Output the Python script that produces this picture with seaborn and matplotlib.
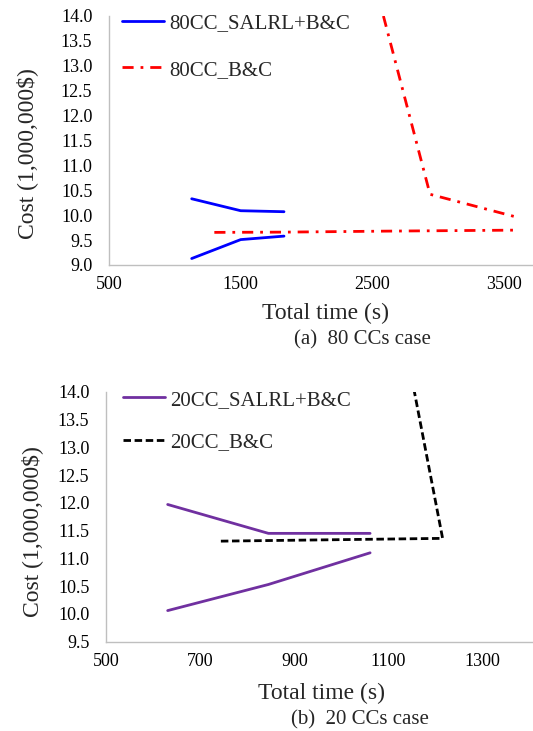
import matplotlib
matplotlib.use("Agg")
import matplotlib.pyplot as plt
import seaborn as sns
import pandas as pd

# (a) 80 CCs case
time_80_salrl_upper = [1128, 1500, 1829]
cost_80_salrl_upper = [10.33, 10.09, 10.07]
time_80_salrl_lower = [1128, 1500, 1829]
cost_80_salrl_lower = [9.13, 9.51, 9.58]
time_80_bc_upper = [2584, 2938, 3584]
cost_80_bc_upper = [14.0, 10.42, 9.97]
time_80_bc_lower = [1300, 1829, 2600, 3584]
cost_80_bc_lower = [9.655, 9.66, 9.68, 9.70]

# (b) 20 CCs case
time_20_salrl_upper = [631, 845, 1061]
cost_20_salrl_upper = [11.97, 11.45, 11.45]
time_20_salrl_lower = [631, 845, 1061]
cost_20_salrl_lower = [10.06, 10.53, 11.10]
time_20_bc = [744, 1215, 1155]
cost_20_bc = [11.31, 11.36, 14.0]

labels_top = ['80CC_SALRL+B&C', '80CC_B&C']
labels_bottom = ['20CC_SALRL+B&C', '20CC_B&C']


def branches(pairs):
    rows = []
    for k, (xs, ys) in enumerate(pairs):
        for x, y in zip(xs, ys):
            rows.append({'time': x, 'cost': y, 'branch': k})
    return pd.DataFrame(rows)


df_80_salrl = branches([(time_80_salrl_upper, cost_80_salrl_upper),
                        (time_80_salrl_lower, cost_80_salrl_lower)])
df_80_bc = branches([(time_80_bc_upper, cost_80_bc_upper),
                     (time_80_bc_lower, cost_80_bc_lower)])
df_20_salrl = branches([(time_20_salrl_upper, cost_20_salrl_upper),
                        (time_20_salrl_lower, cost_20_salrl_lower)])
df_20_bc = branches([(time_20_bc, cost_20_bc)])

sns.set_theme(style="white")
plt.rcParams['font.family'] = ['Liberation Serif', 'DejaVu Serif']

W, H = 533, 731
fig = plt.figure(figsize=(W / 100, H / 100), dpi=100)
ax1 = fig.add_axes([109 / W, 1 - 265 / H, (W - 109) / W, (265 - 16) / H])
ax2 = fig.add_axes([106 / W, 1 - 641.7 / H, (W - 106) / W, 250 / H])

dashdot = (0, (4, 2.5, 1, 2.5))
dashed = (0, (2.7, 1.3))

sns.lineplot(data=df_80_salrl, x='time', y='cost', units='branch', estimator=None,
             sort=False, color='#0000FF', lw=2, ax=ax1, label=labels_top[0])
sns.lineplot(data=df_80_bc, x='time', y='cost', units='branch', estimator=None,
             sort=False, color='#FF0000', lw=2, linestyle=dashdot, ax=ax1,
             label=labels_top[1])
sns.lineplot(data=df_20_salrl, x='time', y='cost', units='branch', estimator=None,
             sort=False, color='#7030A0', lw=2, ax=ax2, label=labels_bottom[0])
sns.lineplot(data=df_20_bc, x='time', y='cost', units='branch', estimator=None,
             sort=False, color='black', lw=2, linestyle=dashed, ax=ax2,
             label=labels_bottom[1])

ax1.set_xlim(500, 3720)
ax1.set_ylim(9.0, 14.0)
ax1.set_xticks([500, 1500, 2500, 3500])
ax1.set_yticks([9.0 + 0.5 * i for i in range(11)])
ax2.set_xlim(500, 1407)
ax2.set_ylim(9.5, 14.0)
ax2.set_xticks([500, 700, 900, 1100, 1300])
ax2.set_yticks([9.5 + 0.5 * i for i in range(10)])

for ax in (ax1, ax2):
    ax.set_xlabel('')
    ax.set_ylabel('')
    ax.yaxis.set_major_formatter(matplotlib.ticker.FormatStrFormatter('%.1f'))
    ax.tick_params(axis='both', length=0, labelsize=13, colors='black')
    ax.tick_params(axis='x', pad=8)
    ax.tick_params(axis='y', pad=12)
    for s in ('top', 'right'):
        ax.spines[s].set_visible(False)
    for s in ('left', 'bottom'):
        ax.spines[s].set_color('#BFBFBF')
        ax.spines[s].set_linewidth(1)

# one legend entry per series (seaborn adds one per branch)
for ax, x0, y0, spacing in ((ax1, 0.031, 1.01, 1.3), (ax2, 0.04, 1.006, 1.1)):
    handles, labels = ax.get_legend_handles_labels()
    uniq = dict(zip(labels[::-1], handles[::-1]))
    order = [l for l in dict.fromkeys(labels)]
    ax.legend([uniq[l] for l in order], order, loc='upper left',
              bbox_to_anchor=(x0, y0), frameon=False, fontsize=15,
              handlelength=2, handletextpad=0.25, labelspacing=spacing,
              borderpad=0, borderaxespad=0)

fig.text(326 / W, 1 - 313 / H, 'Total time (s)', fontsize=17, ha='center', va='center')
fig.text(362 / W, 1 - 340 / H, '(a)  80 CCs case', fontsize=15, ha='center', va='center')
fig.text(322 / W, 1 - 693 / H, 'Total time (s)', fontsize=17, ha='center', va='center')
fig.text(360 / W, 1 - 720 / H, '(b)  20 CCs case', fontsize=15, ha='center', va='center')
fig.text(27 / W, 1 - 154 / H, 'Cost (1,000,000$)', fontsize=17, rotation=90,
         ha='center', va='center')
fig.text(32 / W, 1 - 532 / H, 'Cost (1,000,000$)', fontsize=17, rotation=90,
         ha='center', va='center')

fig.savefig('out.png', dpi=100)
